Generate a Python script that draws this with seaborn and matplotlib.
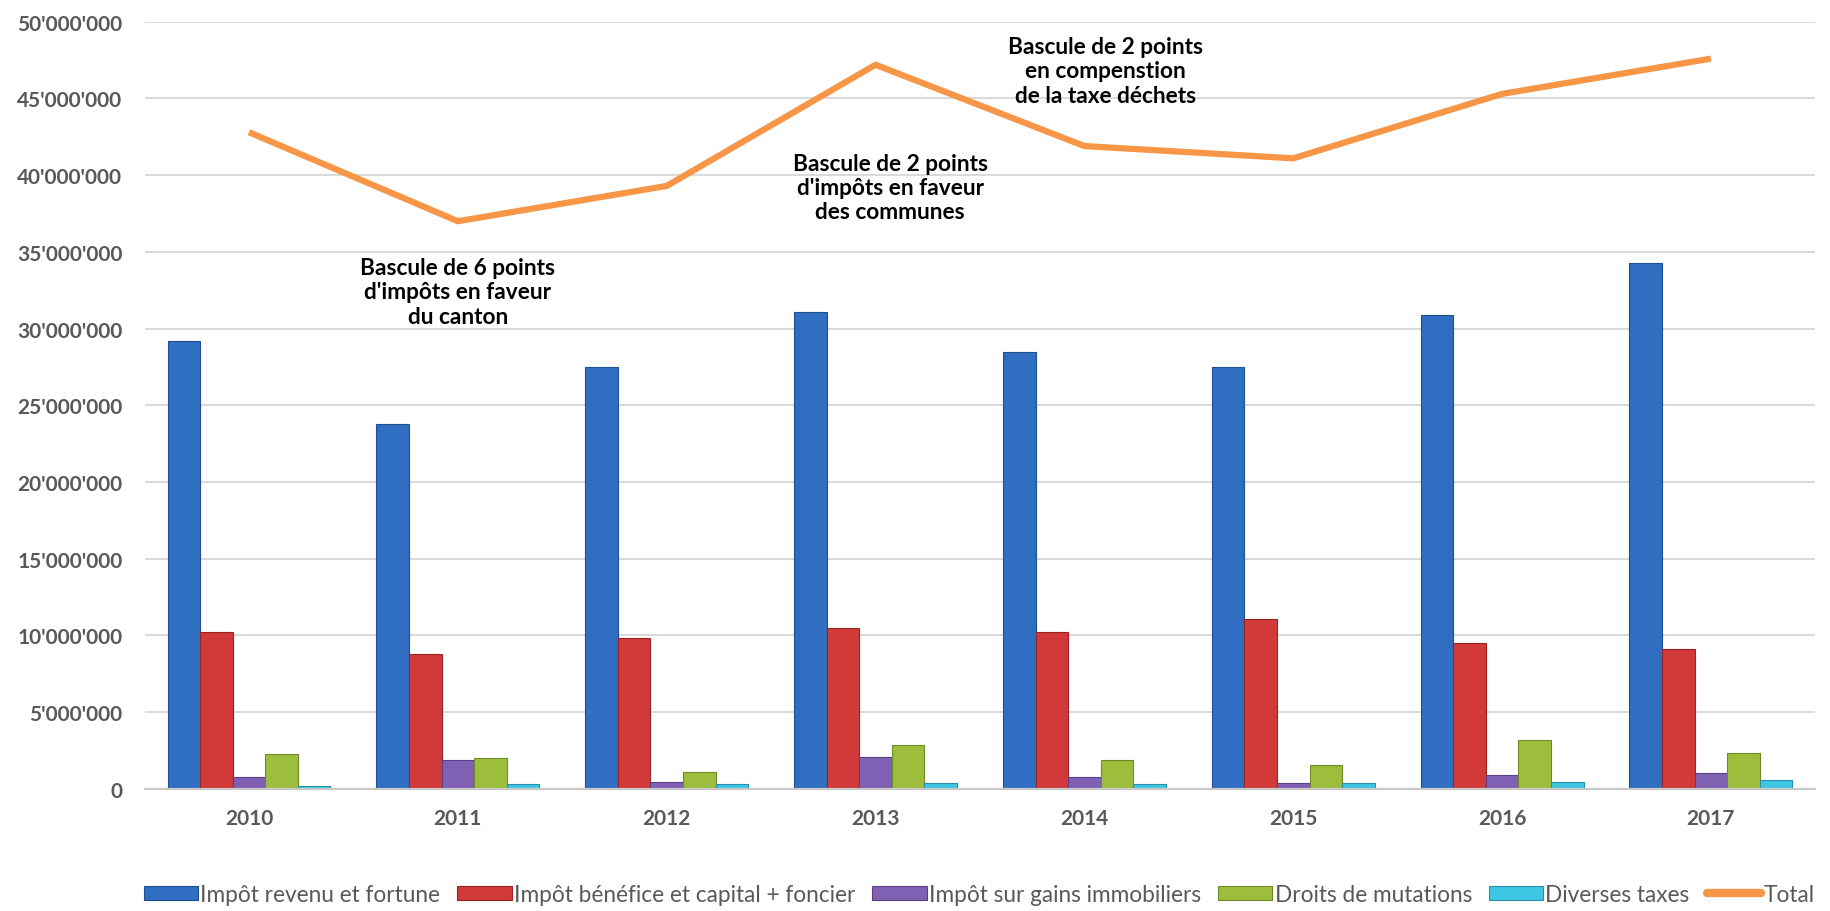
import numpy as np
import pandas as pd
import matplotlib
matplotlib.use('Agg')
import matplotlib.pyplot as plt
from matplotlib.patches import Patch
from matplotlib.lines import Line2D
from matplotlib.ticker import FuncFormatter
import seaborn as sns

# ----------------------------------------------------------------------
# Data (CHF)
# ----------------------------------------------------------------------
years = ['2010', '2011', '2012', '2013', '2014', '2015', '2016', '2017']
revenu_fortune = [29.2e6, 23.8e6, 27.5e6, 31.1e6, 28.5e6, 27.5e6, 30.9e6, 34.3e6]
benefice_capital = [10.2e6, 8.8e6, 9.8e6, 10.5e6, 10.2e6, 11.1e6, 9.5e6, 9.1e6]
gains_immobiliers = [0.75e6, 1.85e6, 0.45e6, 2.05e6, 0.8e6, 0.4e6, 0.9e6, 1.05e6]
droits_mutations = [2.25e6, 2.0e6, 1.1e6, 2.85e6, 1.85e6, 1.55e6, 3.2e6, 2.35e6]
diverses_taxes = [0.15e6, 0.3e6, 0.3e6, 0.4e6, 0.3e6, 0.35e6, 0.45e6, 0.55e6]
total = [42.8e6, 37.0e6, 39.3e6, 47.2e6, 41.9e6, 41.1e6, 45.3e6, 47.6e6]

series_names = ['Impôt revenu et fortune', 'Impôt bénéfice et capital + foncier',
                'Impôt sur gains immobiliers', 'Droits de mutations', 'Diverses taxes']
series_values = [revenu_fortune, benefice_capital, gains_immobiliers,
                 droits_mutations, diverses_taxes]

annotations = [
    ("Bascule de 6 points\nd'impôts en faveur\ndu canton", 1.0, 32.4e6),
    ("Bascule de 2 points\nd'impôts en faveur\ndes communes", 3.07, 39.2e6),
    ("Bascule de 2 points\nen compenstion\nde la taxe déchets", 4.1, 46.8e6),
]

COLORS = ['#2F6EC1', '#D23A3A', '#8060B3', '#9CBE3C', '#3EC6E2']
EDGES = ['#1F4F8F', '#9A2424', '#5A3F85', '#6E8A26', '#2A8FA8']
LINE_COLOR = '#F79646'
TEXT_GRAY = '#595959'

df = pd.DataFrame({
    'year': years * len(series_names),
    'serie': np.repeat(series_names, len(years)),
    'value': np.concatenate(series_values),
})

# ----------------------------------------------------------------------
# Plot
# ----------------------------------------------------------------------
sns.set_theme(style='white')
plt.rcParams['font.family'] = ['Lato', 'DejaVu Sans']

fig = plt.figure(figsize=(18.3, 9.12), dpi=100)
ax = fig.add_axes([0.079, 0.134, 0.913, 0.841])

sns.barplot(data=df, x='year', y='value', hue='serie', hue_order=series_names,
            palette=COLORS, width=0.78, gap=0, ax=ax, legend=False,
            edgecolor='none', saturation=1)

# darker edges per series
for container, ec in zip(ax.containers, EDGES):
    for bar in container:
        bar.set_edgecolor(ec)
        bar.set_linewidth(0.8)

sns.lineplot(x=np.arange(len(years)), y=total, color=LINE_COLOR, linewidth=4.5,
             ax=ax, zorder=5, solid_capstyle='butt')

for txt, xpos, ypos in annotations:
    ax.text(xpos, ypos, txt, ha='center', va='center', fontsize=16.3,
            fontweight='bold', color='black', linespacing=1.2)

ax.set_xlim(-0.5, len(years) - 0.5)
ax.set_ylim(0, 50e6)
ax.set_yticks(np.arange(0, 50e6 + 1, 5e6))
ax.yaxis.set_major_formatter(FuncFormatter(lambda v, p: f'{int(v):,}'.replace(',', "'")))
ax.grid(axis='y', color='#D9D9D9', linewidth=1.4)
ax.set_axisbelow(True)
for s in ['top', 'right', 'left']:
    ax.spines[s].set_visible(False)
ax.spines['bottom'].set_color('#C8C8C8')
ax.spines['bottom'].set_linewidth(1.6)
ax.set_xlabel('')
ax.set_ylabel('')
ax.tick_params(axis='y', length=0, pad=16, labelsize=15, labelcolor=TEXT_GRAY)
ax.tick_params(axis='x', length=0, pad=14, labelsize=15, labelcolor=TEXT_GRAY)
for lbl in ax.get_xticklabels() + ax.get_yticklabels():
    lbl.set_fontweight('bold')

handles = [Patch(facecolor=c, edgecolor=e, linewidth=0.8) for c, e in zip(COLORS, EDGES)]
handles.append(Line2D([0], [0], color=LINE_COLOR, linewidth=6))
fig.legend(handles, series_names + ['Total'], loc='center', bbox_to_anchor=(0.535, 0.018),
           ncol=6, frameon=False, fontsize=16.3, labelcolor=TEXT_GRAY,
           handlelength=2.4, handleheight=0.6, handletextpad=0.1, columnspacing=0.75)

fig.savefig('out.png', dpi=100)
